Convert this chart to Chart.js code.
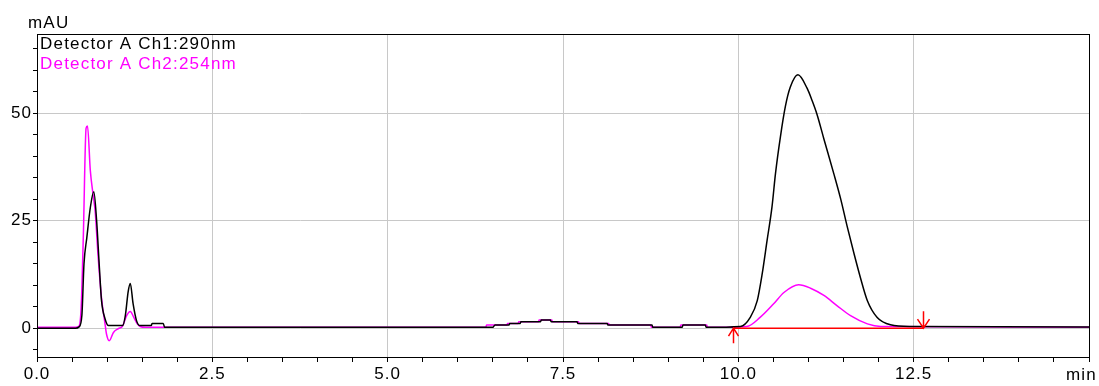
<!DOCTYPE html>
<html lang="en">
<head>
    <meta charset="UTF-8">
    <title>Chromatogram</title>
    <script src="https://cdn.jsdelivr.net/npm/chart.js"></script>
    <style>
        body { margin: 0; background: #fff; }
        #wrap { width: 1099px; height: 386px; }
    </style>
</head>
<body>
    <div id="wrap"><canvas id="chart"></canvas></div>

    <script>
        // Detector A Ch1 (290 nm), time in min / signal in mAU
        const ch1Time = [0.00, 0.55, 0.60, 0.64, 0.67, 0.71, 0.76, 0.81, 0.85, 0.89, 0.92, 0.97, 1.02, 1.22, 1.26, 1.30, 1.33, 1.37, 1.42, 1.47,
            1.63, 1.64, 1.80, 1.82, 6.50, 6.53, 6.73, 6.74, 6.89, 6.90, 7.18, 7.19, 7.32, 7.33, 7.70, 7.71, 8.13, 8.14, 8.77, 8.78,
            9.20, 9.21, 9.53, 9.54, 10.03, 10.17, 10.27, 10.34, 10.41, 10.48, 10.53, 10.60, 10.67, 10.74, 10.85, 10.98, 11.05, 11.12,
            11.22, 11.36, 11.46, 11.55, 11.65, 11.74, 11.84, 11.98, 12.17, 12.45, 15.00];
        const ch1Values = [0.0, 0.0, 0.3, 3.0, 15.0, 21.0, 28.0, 31.7, 25.0, 14.0, 6.4, 2.2, 0.6, 0.6, 3.0, 8.5, 10.4, 5.7, 1.7, 0.6,
            0.6, 1.1, 1.1, 0.2, 0.2, 0.75, 0.75, 1.1, 1.1, 1.5, 1.5, 1.9, 1.9, 1.5, 1.5, 1.1, 1.1, 0.75, 0.75, 0.2,
            0.2, 0.75, 0.75, 0.2, 0.4, 2.5, 6.4, 12.6, 20.4, 28.2, 36.0, 44.5, 51.5, 56.0, 58.9, 55.8, 53.0, 49.8,
            44.0, 36.0, 30.0, 23.8, 17.3, 11.8, 6.4, 2.5, 0.8, 0.4, 0.3];

        // Detector A Ch2 (254 nm)
        const ch2Time = [0.00, 0.55, 0.60, 0.63, 0.66, 0.70, 0.72, 0.76, 0.80, 0.83, 0.87, 0.92, 0.97, 0.99, 1.03, 1.09, 1.16, 1.22,
            1.28, 1.33, 1.38, 1.43, 1.47, 1.55, 6.40, 6.41, 6.70, 6.71, 6.86, 6.87, 7.15, 7.16, 7.34, 7.35, 7.72, 7.73, 8.15, 8.16,
            8.75, 8.76, 9.17, 9.18, 9.55, 9.56, 10.12, 10.31, 10.50, 10.65, 10.86, 11.03, 11.22, 11.41, 11.60, 11.84, 12.03, 15.00];
        const ch2Values = [0.2, 0.2, 0.5, 5.0, 21.0, 46.5, 47.0, 36.7, 31.0, 27.0, 17.0, 7.0, 1.0, -1.3, -2.9, -1.0, -0.1, 0.5,
            3.0, 3.9, 2.5, 1.0, 0.4, 0.2, 0.2, 0.75, 0.75, 1.1, 1.1, 1.5, 1.5, 1.9, 1.9, 1.5, 1.5, 1.1, 1.1, 0.75,
            0.75, 0.2, 0.2, 0.75, 0.75, 0.2, 0.4, 2.5, 5.6, 8.3, 10.1, 9.3, 7.6, 5.2, 2.9, 1.0, 0.4, 0.2];

        // integration baseline of the main peak
        const peakStart = 9.93;
        const peakEnd = 12.64;

        const xMin = 0, xMax = 15;
        const yMin = -6.7, yMax = 68.4;
        const xLabelStep = 2.5;
        const yLabelStep = 25;

        const FONT = 'Liberation Sans, Arial, sans-serif';
        const SPACING = '1px';

        const toPoints = (xs, ys) => xs.map((x, i) => ({ x: x, y: ys[i] }));
        const isStep = (v, step) => Math.abs(v / step - Math.round(v / step)) < 1e-6;

        const extras = {
            id: 'extras',
            beforeDraw(chart) {
                // wider glyph spacing for all canvas text
                chart.ctx.letterSpacing = SPACING;
            },
            afterDraw(chart) {
                const c = chart.ctx;
                const a = chart.chartArea;
                const xs = chart.scales.x, ys = chart.scales.y;
                c.save();
                // frame
                c.strokeStyle = '#000';
                c.lineWidth = 1;
                c.strokeRect(Math.round(a.left) + 0.5, Math.round(a.top) + 0.5,
                    Math.round(a.right - a.left), Math.round(a.bottom - a.top));

                // peak start / end arrows
                const y0 = ys.getPixelForValue(0);
                c.strokeStyle = '#ff0000';
                c.lineWidth = 1.5;
                let px = Math.round(xs.getPixelForValue(peakStart)) + 0.5;
                c.beginPath();
                c.moveTo(px, y0); c.lineTo(px, y0 + 15);
                c.moveTo(px - 5, y0 + 8); c.lineTo(px, y0); c.lineTo(px + 5, y0 + 8);
                c.stroke();
                px = Math.round(xs.getPixelForValue(peakEnd)) + 0.5;
                c.beginPath();
                c.moveTo(px, y0 - 17); c.lineTo(px, y0);
                c.moveTo(px - 6, y0 - 9); c.lineTo(px, y0); c.lineTo(px + 6, y0 - 9);
                c.stroke();

                // legend text
                c.letterSpacing = '1.2px';
                c.font = '17px ' + FONT;
                c.textAlign = 'left';
                c.textBaseline = 'alphabetic';
                chart.data.datasets.forEach((ds) => {
                    if (!ds.legend) return;
                    c.fillStyle = ds.borderColor;
                    c.fillText(ds.label, a.left + 3, a.top + 15 + (ds.legend - 1) * 20);
                });

                // axis units
                c.fillStyle = '#000';
                c.fillText('mAU', 28, 28);
                c.textAlign = 'right';
                c.fillText('min', 1097, 380);
                c.restore();
            }
        };

        const ctx = document.getElementById('chart').getContext('2d');
        const chart = new Chart(ctx, {
            type: 'line',
            data: {
                datasets: [{
                    label: 'baseline',
                    data: [{ x: peakStart, y: 0 }, { x: peakEnd, y: 0 }],
                    borderColor: '#ff0000',
                    borderWidth: 1.5
                }, {
                    label: 'Detector A Ch1:290nm',
                    legend: 1,
                    data: toPoints(ch1Time, ch1Values),
                    borderColor: '#000000',
                    borderWidth: 1.5
                }, {
                    label: 'Detector A Ch2:254nm',
                    legend: 2,
                    data: toPoints(ch2Time, ch2Values),
                    borderColor: '#ff00ff',
                    borderWidth: 1.5
                }]
            },
            options: {
                responsive: true,
                maintainAspectRatio: false,
                animation: false,
                events: [],
                layout: { padding: { top: 34, right: 10, left: 0, bottom: 0 } },
                elements: { point: { radius: 0 }, line: { cubicInterpolationMode: 'monotone' } },
                plugins: { legend: { display: false }, tooltip: { enabled: false } },
                scales: {
                    x: {
                        type: 'linear',
                        min: xMin,
                        max: xMax,
                        afterFit: (s) => { s.height = 29; },
                        border: { display: true, color: '#000', width: 1 },
                        grid: {
                            color: (c) => (c.tick && isStep(c.tick.value, xLabelStep) && c.tick.value > xMin && c.tick.value < xMax) ? '#c8c8c8' : 'rgba(0,0,0,0)',
                            tickColor: '#000',
                            tickLength: 5,
                            lineWidth: 1
                        },
                        ticks: {
                            stepSize: 0.5,
                            maxTicksLimit: 100,
                            autoSkip: false,
                            maxRotation: 0,
                            includeBounds: false,
                            padding: 2,
                            color: '#000',
                            font: { family: FONT, size: 17 },
                            callback: (v) => (isStep(v, xLabelStep) && v < xMax) ? v.toFixed(1) : ''
                        }
                    },
                    y: {
                        min: yMin,
                        max: yMax,
                        afterFit: (s) => { s.width = 37; },
                        border: { display: true, color: '#000', width: 1 },
                        grid: {
                            color: (c) => (c.tick && isStep(c.tick.value, yLabelStep)) ? '#c8c8c8' : 'rgba(0,0,0,0)',
                            tickColor: '#000',
                            tickLength: 4,
                            lineWidth: 1
                        },
                        ticks: {
                            stepSize: 5,
                            maxTicksLimit: 100,
                            autoSkip: false,
                            includeBounds: false,
                            padding: 1,
                            color: '#000',
                            font: { family: FONT, size: 17 },
                            callback: (v) => isStep(v, yLabelStep) ? String(v) : ''
                        }
                    }
                }
            },
            plugins: [extras]
        });
    </script>
</body>
</html>
